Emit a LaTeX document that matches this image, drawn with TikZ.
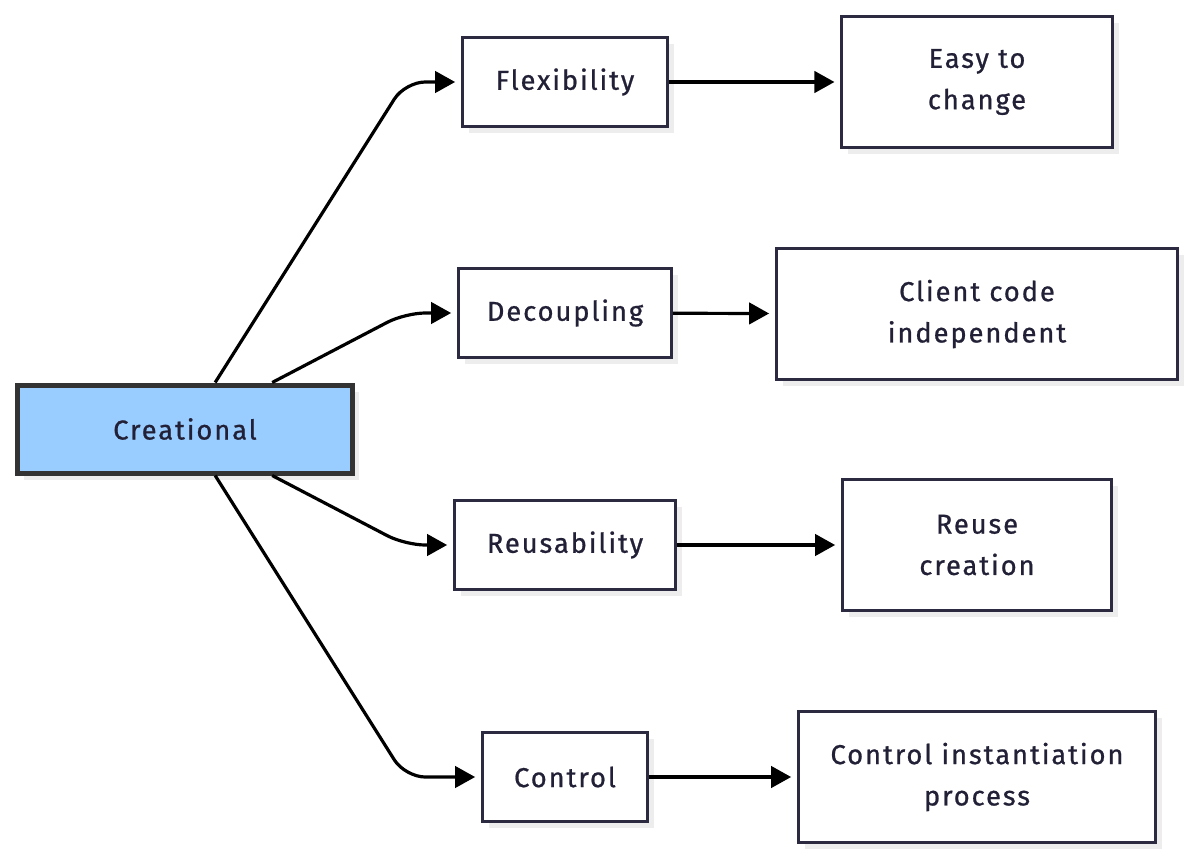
\documentclass[tikz,border=0pt]{standalone}
\usepackage{fontspec}
\setmainfont{Fira Sans}[LetterSpace=7, FakeBold=0.8]
\usetikzlibrary{calc,shadows,arrows.meta}

\definecolor{boxline}{HTML}{2B2A40}
\definecolor{boxtext}{HTML}{222036}
\definecolor{rootfill}{HTML}{99CCFF}
\definecolor{rootline}{HTML}{333333}

\tikzset{
	box/.style={draw=boxline, line width=1.8pt, fill=white, text=boxtext, align=center,
		font=\fontsize{20.5}{31}\selectfont, minimum height=67pt,
		drop shadow={shadow xshift=5pt, shadow yshift=-5pt, fill=black!7, opacity=1}},
	bigbox/.style={box, minimum height=98pt},
	rootbox/.style={box, draw=rootline, fill=rootfill, line width=3.75pt, minimum height=66pt},
	edge/.style={line width=2.4pt, rounded corners=15pt, shorten >=4.5pt,
		-{Triangle[length=15pt,width=16pt]}}
}

\begin{document}
\begin{tikzpicture}[x=0.75pt, y=-0.75pt]
		%%%%% START %%%%%
		
		\useasboundingbox (0, 0) rectangle (1195, 860);
		
		\node[rootbox, minimum width=251pt] (creat) at (185, 429) {Creational};
		
		\node[box, minimum width=154pt] (flex) at (565, 82) {Flexibility};
		\node[box, minimum width=160pt] (decoup) at (565, 313) {Decoupling};
		\node[box, minimum width=166pt] (reuse) at (565, 545) {Reusability};
		\node[box, minimum width=124pt] (ctrl) at (565, 777) {Control};
		
		\node[bigbox, minimum width=203pt] (easy) at (977, 82) {Easy to\\change};
		\node[bigbox, minimum width=301pt] (client) at (977, 314) {Client code\\independent};
		\node[bigbox, minimum width=202pt] (reusecr) at (977, 545) {Reuse\\creation};
		\node[bigbox, minimum width=268pt] (ctrlinst) at (977, 777) {Control instantiation\\process};
		
		\draw[edge] ($(creat.north west)+(200, 0)$) -- ([xshift=-42pt]flex.west) -- (flex.west);
		\draw[edge] ($(creat.north west)+(257, 0)$) -- ([xshift=-39pt]decoup.west) -- (decoup.west);
		\draw[edge] ($(creat.south west)+(257, 0)$) -- ([xshift=-36pt]reuse.west) -- (reuse.west);
		\draw[edge] ($(creat.south west)+(200, 0)$) -- ([xshift=-57pt]ctrl.west) -- (ctrl.west);
		
		\draw[edge] (flex) -- (easy);
		\draw[edge] (decoup) -- (client);
		\draw[edge] (reuse) -- (reusecr);
		\draw[edge] (ctrl) -- (ctrlinst);
		
		%%%%% END %%%%%
	\end{tikzpicture}
\end{document}
